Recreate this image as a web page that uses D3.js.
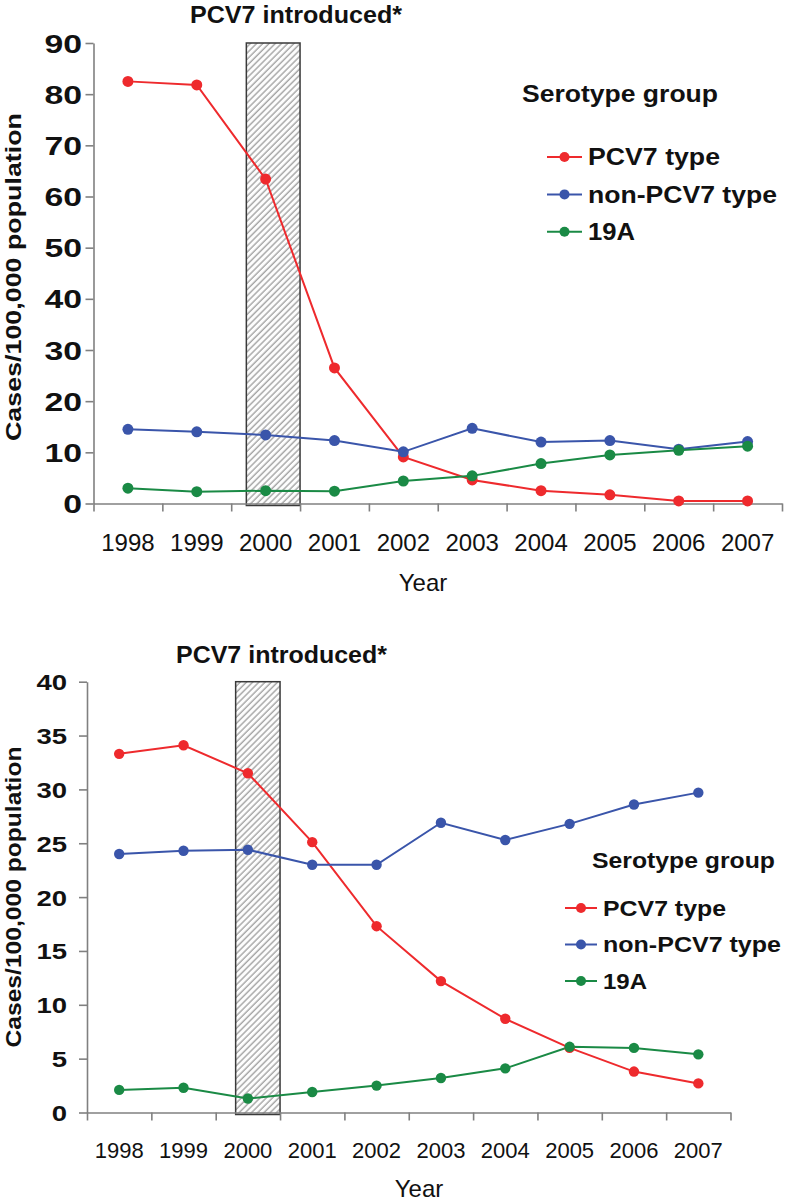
<!DOCTYPE html>
<html>
<head>
<meta charset="utf-8">
<script src="https://cdn.jsdelivr.net/npm/d3@7"></script>
<style>
  html, body { margin: 0; padding: 0; background: #fff; }
  svg { display: block; }
  text { font-family: "Liberation Sans", Arial, sans-serif; fill: #111; }
</style>
</head>
<body>
<svg id="chart" width="786" height="1203"></svg>
<script>
// ---------------- data ----------------
const years = ["1998","1999","2000","2001","2002","2003","2004","2005","2006","2007"];
const seriesNames = ["PCV7 type", "non-PCV7 type", "19A"];
const seriesColors = ["#ee2a2d", "#3a55aa", "#1a8a45"];

// Panel A (top)
const topPCV7    = [82.5, 81.8, 63.4, 26.5, 9.1, 4.6, 2.5, 1.7, 0.5, 0.5];
const topNonPCV7 = [14.5, 14.0, 13.4, 12.3, 10.1, 14.7, 12.0, 12.3, 10.6, 12.1];
const top19A     = [3.0, 2.3, 2.5, 2.4, 4.4, 5.4, 7.8, 9.5, 10.4, 11.2];
const topYTicks  = [0, 10, 20, 30, 40, 50, 60, 70, 80, 90];

// Panel B (bottom)
const botPCV7    = [33.3, 34.1, 31.5, 25.1, 17.3, 12.2, 8.7, 6.0, 3.8, 2.7];
const botNonPCV7 = [24.0, 24.3, 24.4, 23.0, 23.0, 26.9, 25.3, 26.8, 28.6, 29.7];
const bot19A     = [2.1, 2.3, 1.3, 1.9, 2.5, 3.2, 4.1, 6.1, 6.0, 5.4];
const botYTicks  = [0, 5, 10, 15, 20, 25, 30, 35, 40];

const introYear = "2000";
const titleText = "PCV7 introduced*";
const yLabelText = "Cases/100,000 population";
const xLabelText = "Year";
const legendTitle = "Serotype group";

// ---------------- drawing ----------------
const svg = d3.select("#chart");
const AXIS = "#808080";

function label(g, opts) {
  const t = g.append("text")
    .attr("x", opts.x).attr("y", opts.y)
    .attr("font-size", opts.size)
    .attr("font-weight", opts.bold ? "bold" : "normal")
    .attr("text-anchor", opts.anchor || "start")
    .text(opts.text);
  if (opts.len) t.attr("textLength", opts.len).attr("lengthAdjust", "spacingAndGlyphs");
  if (opts.rotate) t.attr("transform", `rotate(${opts.rotate},${opts.x},${opts.y})`);
  return t;
}

function drawPanel(cfg) {
  const g = svg.append("g");
  const x = d3.scaleBand().domain(years).range([cfg.x0, cfg.x1]).padding(0);
  const xb = d3.scaleLinear().domain([0, years.length]).range([cfg.x0, cfg.x1]);
  const y = d3.scaleLinear().domain([0, cfg.yMax]).range([cfg.y0, cfg.yTop]);
  const bw = x.bandwidth();

  // hatch pattern
  const pid = "hatch" + cfg.id;
  const pat = svg.append("defs").append("pattern")
    .attr("id", pid).attr("patternUnits", "userSpaceOnUse")
    .attr("width", 4.4).attr("height", 4.4)
    .attr("patternTransform", "rotate(45)");
  pat.append("rect").attr("width", 4.4).attr("height", 4.4).attr("fill", "#fdfdfd");
  pat.append("line").attr("x1", 1).attr("y1", 0).attr("x2", 1).attr("y2", 4.4)
    .attr("stroke", "#8c8c8c").attr("stroke-width", 1.1);

  // introduction rectangle
  const ix = x(introYear);
  g.append("rect")
    .attr("x", ix + bw * cfg.rectFrac)
    .attr("y", y(cfg.yMax))
    .attr("width", bw * (1 - cfg.rectFrac))
    .attr("height", y(0) - y(cfg.yMax) + 2)
    .attr("fill", `url(#${pid})`)
    .attr("stroke", "#3a3a3a").attr("stroke-width", 1.5);

  // y axis
  const ya = g.append("g").attr("transform", `translate(${cfg.x0},0)`)
    .call(d3.axisLeft(y).tickValues(cfg.yTicks).tickSize(8).tickSizeOuter(0));
  ya.select(".domain").attr("stroke", AXIS).attr("stroke-width", 1.6);
  ya.selectAll(".tick line").attr("stroke", AXIS).attr("stroke-width", 1.6);
  ya.selectAll(".tick text")
    .attr("font-family", "Liberation Sans, Arial, sans-serif")
    .attr("font-weight", "bold").attr("font-size", cfg.yTickSize).attr("fill", "#111")
    .attr("transform", `scale(${cfg.yTickScale},1)`)
    .attr("x", -cfg.yTickGap / cfg.yTickScale).attr("dy", "0.36em");

  // x axis boundary ticks
  const xa = g.append("g").attr("transform", `translate(0,${cfg.y0})`)
    .call(d3.axisBottom(xb).tickValues(d3.range(0, years.length + 1)).tickSize(8).tickSizeOuter(0).tickFormat(""));
  xa.select(".domain").attr("stroke", AXIS).attr("stroke-width", 1.6);
  xa.selectAll(".tick line").attr("stroke", AXIS).attr("stroke-width", 1.6);

  // x category labels
  const xl = g.append("g").attr("transform", `translate(0,${cfg.y0})`)
    .call(d3.axisBottom(x).tickSize(0));
  xl.select(".domain").remove();
  xl.selectAll(".tick text")
    .attr("font-family", "Liberation Sans, Arial, sans-serif")
    .attr("font-size", cfg.xTickSize).attr("fill", "#111")
    .attr("y", cfg.xTickOffset).attr("dy", 0);

  // series
  const series = [cfg.s1, cfg.s2, cfg.s3];
  const line = d3.line().x((d, i) => x(years[i]) + bw / 2).y(d => y(d));
  series.forEach((vals, k) => {
    g.append("path").datum(vals).attr("d", line)
      .attr("fill", "none").attr("stroke", seriesColors[k]).attr("stroke-width", 2);
  });
  series.forEach((vals, k) => {
    g.selectAll(null).data(vals).enter().append("circle")
      .attr("cx", (d, i) => x(years[i]) + bw / 2).attr("cy", d => y(d))
      .attr("r", cfg.r).attr("fill", seriesColors[k]);
  });

  // titles and axis labels
  label(g, { x: cfg.titleX, y: cfg.titleY, size: 23, bold: true, text: titleText, len: cfg.titleLen });
  label(g, { x: cfg.yLabX, y: cfg.yLabY, size: 22, bold: true, text: yLabelText, anchor: "middle", rotate: -90, len: cfg.yLabLen });
  label(g, { x: cfg.xLabX, y: cfg.xLabY, size: 24, text: xLabelText, anchor: "middle" });

  // legend
  label(g, { x: cfg.legTitleX, y: cfg.legTitleY, size: cfg.legSize, bold: true, text: legendTitle, len: cfg.legTitleLen });
  seriesNames.forEach((nm, k) => {
    const cy = cfg.legY0 + k * cfg.legDy;
    g.append("line").attr("x1", cfg.legLineX0).attr("x2", cfg.legLineX1)
      .attr("y1", cy).attr("y2", cy).attr("stroke", seriesColors[k]).attr("stroke-width", 2);
    g.append("circle").attr("cx", (cfg.legLineX0 + cfg.legLineX1) / 2).attr("cy", cy)
      .attr("r", 5).attr("fill", seriesColors[k]);
    label(g, { x: cfg.legTextX, y: cy + 0.36 * cfg.legSize, size: cfg.legSize, bold: true, text: nm, len: cfg.legLens[k] });
  });
}

drawPanel({
  id: "A", x0: 93.5, x1: 782, y0: 503.5, yTop: 43, yMax: 90, yTicks: topYTicks,
  s1: topPCV7, s2: topNonPCV7, s3: top19A, r: 5.5, rectFrac: 0.22,
  yTickSize: 25, yTickScale: 1.35, yTickGap: 11.5, xTickSize: 24, xTickOffset: 47.5,
  titleX: 190, titleY: 23, titleLen: 212,
  yLabX: 21, yLabY: 277, yLabLen: 328,
  xLabX: 423, xLabY: 591,
  legSize: 23, legTitleX: 522, legTitleY: 102, legTitleLen: 196,
  legY0: 157, legDy: 37.4, legLineX0: 547, legLineX1: 582, legTextX: 588, legLens: [132, 189, 47]
});

drawPanel({
  id: "B", x0: 87, x1: 730.5, y0: 1112.5, yTop: 681.7, yMax: 40, yTicks: botYTicks,
  s1: botPCV7, s2: botNonPCV7, s3: bot19A, r: 5.2, rectFrac: 0.31,
  yTickSize: 22, yTickScale: 1.25, yTickGap: 20, xTickSize: 22, xTickOffset: 45.5,
  titleX: 176, titleY: 663, titleLen: 211,
  yLabX: 21, yLabY: 897, yLabLen: 301,
  xLabX: 419, xLabY: 1197,
  legSize: 22, legTitleX: 592, legTitleY: 868, legTitleLen: 183,
  legY0: 908, legDy: 36.5, legLineX0: 565, legLineX1: 597, legTextX: 603, legLens: [123, 178, 44]
});
</script>
</body>
</html>
